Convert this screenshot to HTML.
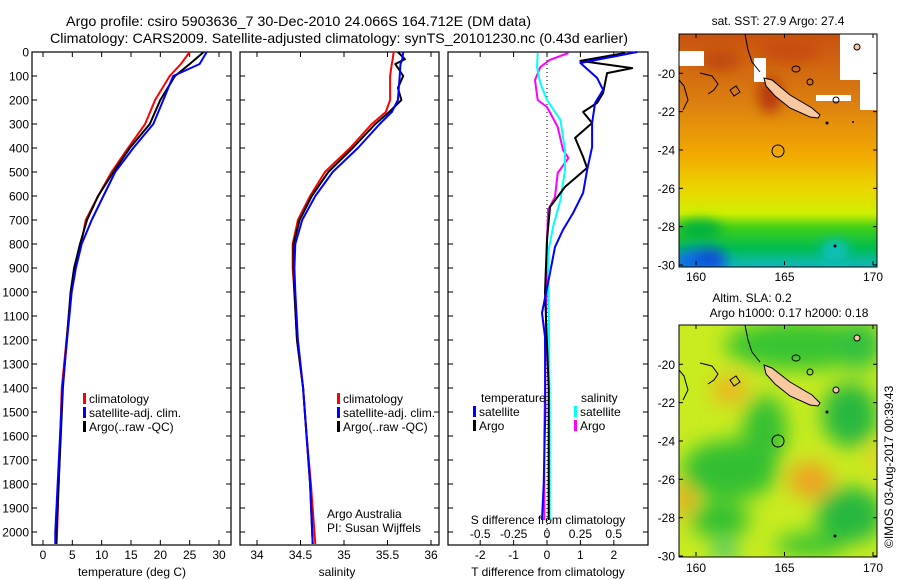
<!DOCTYPE html>
<html><head><meta charset="utf-8"><style>
html,body{margin:0;padding:0;background:#fff;}
svg{display:block;font-family:"Liberation Sans",sans-serif;}
text{fill:#000;}
</style></head><body>
<svg id="fig" width="900" height="580" viewBox="0 0 900 580" xmlns="http://www.w3.org/2000/svg">
<defs>
<filter id="blur6" x="-20%" y="-20%" width="140%" height="140%"><feGaussianBlur stdDeviation="6"/></filter>
<filter id="blur10" x="-30%" y="-30%" width="160%" height="160%"><feGaussianBlur stdDeviation="10"/></filter>
<clipPath id="clipTop"><rect x="679" y="34" width="198" height="233"/></clipPath>
<clipPath id="clipBot"><rect x="679" y="325" width="198" height="232"/></clipPath>
<linearGradient id="sstGrad" x1="0" y1="0" x2="0" y2="1">
<stop offset="0" stop-color="#c85210"/>
<stop offset="0.3" stop-color="#dc8010"/>
<stop offset="0.52" stop-color="#f2aa00"/>
<stop offset="0.66" stop-color="#ecd400"/>
<stop offset="0.77" stop-color="#d0f000"/>
<stop offset="0.83" stop-color="#40d018"/>
<stop offset="0.92" stop-color="#00bc50"/>
<stop offset="1" stop-color="#10b8c0"/>
</linearGradient>
</defs>
<text x="66" y="26" font-size="14" textLength="465" lengthAdjust="spacingAndGlyphs">Argo profile: csiro 5903636_7 30-Dec-2010 24.066S 164.712E (DM data)</text>
<text x="50" y="43" font-size="14" textLength="578" lengthAdjust="spacingAndGlyphs">Climatology: CARS2009. Satellite-adjusted climatology: synTS_20101230.nc (0.43d earlier)</text>
<g id="panels"></g>

<g>
<text x="778" y="25" font-size="12" text-anchor="middle">sat. SST: 27.9 Argo: 27.4</text>
<g clip-path="url(#clipTop)">
<rect x="679" y="34" width="198" height="233" fill="url(#sstGrad)"/>
<g filter="url(#blur6)">
<ellipse cx="770" cy="95" rx="12" ry="18" fill="#b83a10"/>
<ellipse cx="720" cy="60" rx="20" ry="10" fill="#c04810"/>
<ellipse cx="790" cy="50" rx="30" ry="12" fill="#c84e10"/>
<ellipse cx="700" cy="262" rx="28" ry="14" fill="#1070e0"/>
<ellipse cx="710" cy="258" rx="15" ry="10" fill="#0a50d8"/>
<ellipse cx="835" cy="250" rx="14" ry="10" fill="#10c0c8"/>
<ellipse cx="700" cy="230" rx="22" ry="10" fill="#00b040"/>
</g>
<rect x="840" y="34" width="37" height="46" fill="#fff"/>
<rect x="860" y="80" width="17" height="30" fill="#fff"/>
<rect x="679" y="51" width="25" height="15" fill="#fff"/>
<rect x="754" y="58" width="12" height="24" fill="#fff"/>
<rect x="816" y="95" width="35" height="6" fill="#fff"/>
<polygon points="764,78 772,80 790,95 812,108 820,115 818,118 810,117 790,108 775,96 766,86" fill="#f8c8a0" stroke="#000" stroke-width="1"/>
<polyline points="745,34 748,50 752,62 760,72" fill="none" stroke="#000" stroke-width="1"/>
<polyline points="679,80 684,86 688,100 683,110" fill="none" stroke="#000" stroke-width="1"/>
<polyline points="700,73 712,76 718,84 714,90 708,94" fill="none" stroke="#000" stroke-width="1"/>
<path d="M730 90 l6 -4 l4 6 l-6 4 z" fill="none" stroke="#000" stroke-width="1"/>
<ellipse cx="796" cy="69" rx="4" ry="3" fill="none" stroke="#000"/>
<ellipse cx="810" cy="82" rx="3" ry="3" fill="none" stroke="#000"/>
<ellipse cx="836" cy="100" rx="3" ry="3" fill="none" stroke="#000"/>
<ellipse cx="857" cy="47" rx="3" ry="3" fill="#f8c8a0" stroke="#000"/>
<circle cx="827" cy="123" r="1.5" fill="#000"/>
<circle cx="853" cy="122" r="1" fill="#000"/>
<circle cx="835" cy="246" r="1.5" fill="#000"/>
<circle cx="778" cy="151" r="6" fill="none" stroke="#000" stroke-width="1"/>
</g>
<rect x="679" y="34" width="198" height="233" fill="none" stroke="#000" stroke-width="1"/>
<g id="topMapAxes"></g>
</g>

<g>
<text x="752" y="302" font-size="12" text-anchor="middle">Altim. SLA: 0.2</text>
<text x="789" y="317" font-size="12" text-anchor="middle">Argo h1000: 0.17 h2000: 0.18</text>
<g clip-path="url(#clipBot)">
<rect x="679" y="325" width="198" height="232" fill="#c8ec20"/>
<g filter="url(#blur10)">
<ellipse cx="800" cy="345" rx="75" ry="25" fill="#38c430"/>
<ellipse cx="860" cy="345" rx="22" ry="25" fill="#30c040"/>
<ellipse cx="850" cy="415" rx="28" ry="32" fill="#28b840"/>
<ellipse cx="730" cy="470" rx="48" ry="30" fill="#30c030"/>
<ellipse cx="765" cy="430" rx="22" ry="35" fill="#34c030"/>
<ellipse cx="720" cy="520" rx="30" ry="18" fill="#30c030"/>
<ellipse cx="850" cy="515" rx="34" ry="28" fill="#28b840"/>
<ellipse cx="810" cy="545" rx="35" ry="12" fill="#38c430"/>
<ellipse cx="725" cy="552" rx="12" ry="8" fill="#10b890"/>
<ellipse cx="810" cy="480" rx="22" ry="18" fill="#f0a020"/>
<ellipse cx="730" cy="390" rx="18" ry="14" fill="#f0b020"/>
<ellipse cx="683" cy="500" rx="10" ry="16" fill="#f0a020"/>
<ellipse cx="876" cy="460" rx="6" ry="14" fill="#f0c020"/>
</g>
<polygon points="764,365 772,368 790,382 812,395 820,403 818,406 810,405 790,396 775,384 766,374" fill="#f8c8a0" stroke="#000" stroke-width="1"/>
<polyline points="745,325 748,340 752,352 760,362" fill="none" stroke="#000" stroke-width="1"/>
<polyline points="679,370 684,376 688,390 683,400" fill="none" stroke="#000" stroke-width="1"/>
<polyline points="700,363 712,366 718,374 714,380 708,384" fill="none" stroke="#000" stroke-width="1"/>
<path d="M730 380 l6 -4 l4 6 l-6 4 z" fill="none" stroke="#000" stroke-width="1"/>
<ellipse cx="796" cy="358" rx="4" ry="3" fill="none" stroke="#000"/>
<ellipse cx="810" cy="372" rx="3" ry="3" fill="none" stroke="#000"/>
<ellipse cx="836" cy="390" rx="3" ry="3" fill="#f8c8a0" stroke="#000"/>
<ellipse cx="857" cy="338" rx="3" ry="3" fill="#f8c8a0" stroke="#000"/>
<circle cx="827" cy="412" r="1.5" fill="#000"/>
<circle cx="835" cy="536" r="1.5" fill="#000"/>
<circle cx="778" cy="441" r="6" fill="none" stroke="#000" stroke-width="1"/>
</g>
<rect x="679" y="325" width="198" height="232" fill="none" stroke="#000" stroke-width="1"/>
<g id="botMapAxes"></g>
</g>
<text transform="translate(893,548) rotate(-90)" font-size="12">©IMOS 03-Aug-2017 00:39:43</text>
</svg>
<script>
const tempDepthClim = [0, 50, 100, 200, 300, 400, 500, 600, 700, 800, 900, 1000, 1400, 2000, 2050];
const tempClim      = [25.0, 23.5, 21.6, 19.1, 17.4, 14.5, 11.7, 9.4, 7.3, 6.5, 5.4, 4.8, 3.2, 2.4, 2.3];
const tempSat       = [27.9, 26.7, 22.2, 20.5, 18.8, 15.4, 12.3, 10.3, 8.3, 6.6, 5.6, 4.9, 3.3, 2.1, 2.1];
const tempArgo      = [27.4, 25.0, 22.5, 20.0, 18.2, 14.8, 12.0, 9.4, 7.5, 6.3, 5.3, 4.7, 3.4, 2.3, 2.3];

const salDepth = [0, 30, 50, 100, 150, 200, 250, 300, 400, 500, 600, 700, 800, 900, 1000, 1200, 1400, 1600, 1800, 2050];
const salClim  = [35.57, 35.56, 35.55, 35.53, 35.53, 35.53, 35.48, 35.32, 35.07, 34.78, 34.61, 34.47, 34.41, 34.41, 34.43, 34.46, 34.53, 34.57, 34.62, 34.67];
const salSat   = [35.68, 35.67, 35.65, 35.64, 35.63, 35.62, 35.55, 35.41, 35.16, 34.87, 34.67, 34.52, 34.44, 34.43, 34.44, 34.47, 34.53, 34.57, 34.61, 34.64];
const salArgo  = [35.62, 35.70, 35.59, 35.68, 35.62, 35.66, 35.52, 35.36, 35.10, 34.82, 34.63, 34.49, 34.42, 34.42, 34.43, 34.46, 34.53, 34.57, 34.61, 34.64];

const dTSatDepth = [0, 46, 108, 158, 212, 296, 396, 492, 587, 671, 741, 812, 921, 1004, 1087, 1187, 1500, 1800, 1950];
const dTSat      = [2.7, 1.0, 1.5, 1.68, 1.44, 1.35, 1.35, 1.2, 1.08, 0.78, 0.48, 0.24, 0.09, -0.03, -0.15, -0.06, -0.05, -0.1, -0.15];
const dTArgoDepth = [4, 37, 67, 88, 129, 171, 212, 250, 296, 358, 437, 483, 562, 646, 783, 1000, 1400, 1950];
const dTArgo      = [2.34, 1.0, 2.55, 1.8, 1.74, 1.68, 1.5, 1.08, 1.35, 0.84, 1.08, 1.2, 0.54, 0.09, 0.0, -0.06, 0.05, 0.05];
const dSSatDepth = [4, 63, 129, 200, 283, 408, 492, 617, 729, 837, 1170, 1500, 1950];
const dSSat      = [-0.07, -0.075, -0.05, 0.0, 0.1, 0.135, 0.135, 0.1, 0.045, 0.008, 0.015, 0.02, 0.02];
const dSArgoDepth = [4, 33, 63, 117, 200, 229, 312, 408, 442, 504, 604, 658, 783, 1200, 1600, 1950];
const dSArgo      = [0.16, 0.02, -0.05, -0.09, -0.07, 0.0, 0.08, 0.12, 0.16, 0.08, 0.06, 0.008, 0.0, -0.01, -0.02, -0.02];

const depthTicks = [0,100,200,300,400,500,600,700,800,900,1000,1100,1200,1300,1400,1500,1600,1700,1800,1900,2000];
const tempTicks = [0,5,10,15,20,25,30];
const salTicks = [34,34.5,35,35.5,36];
const salTickLabels = ['34','34.5','35','35.5','36'];
const dTTicks = [-2,-1,0,1,2];
const dSTicks = [-0.5,-0.25,0,0.25,0.5];
const dSTickLabels = ['-0.5','-0.25','0','0.25','0.5'];
const latTicks = [-20,-22,-24,-26,-28,-30];
const lonTicks = [160,165,170];

const NS = 'http://www.w3.org/2000/svg';
const TOP = 52, BOT = 545;
const yD = d => TOP + d * 0.24;
const xT = t => 43 + t * (176 / 30);
const xS = s => 257 + (s - 34) * 87;
const xDT = t => 547 + t * 33.4;
const xDS = s => 547 + s * 133.5;
function mk(tag, attrs, parent) {
  const e = document.createElementNS(NS, tag);
  for (const k in attrs) e.setAttribute(k, attrs[k]);
  parent.appendChild(e);
  return e;
}
const G = document.getElementById('panels');

function panelFrame(name, x0, x1) {
  const r = mk('rect', {x: x0, y: TOP, width: x1 - x0, height: BOT - TOP, fill: 'none', stroke: '#000', 'stroke-width': 1.2}, G);
  
  
  depthTicks.forEach(d => {
    mk('line', {x1: x0, x2: x0 + 5, y1: yD(d), y2: yD(d), stroke: '#000'}, G);
    mk('line', {x1: x1 - 5, x2: x1, y1: yD(d), y2: yD(d), stroke: '#000'}, G);
  });
}
function xTicks(ticks, labels, fx, y, prefix) {
  ticks.forEach((t, i) => {
    const x = fx(t);
    mk('line', {x1: x, x2: x, y1: BOT, y2: BOT - 5, stroke: '#000'}, G);
    mk('line', {x1: x, x2: x, y1: TOP, y2: TOP + 5, stroke: '#000'}, G);
    if (y) {
      const tx = mk('text', {x: x, y: y, 'font-size': 12, 'text-anchor': 'middle'}, G);
      tx.textContent = labels[i];
      
      
    }
  });
}
function line(depths, vals, fx, color, name, w) {
  const pts = depths.map((d, i) => fx(vals[i]).toFixed(1) + ',' + yD(d).toFixed(1)).join(' ');
  const p = mk('polyline', {points: pts, fill: 'none', stroke: color, 'stroke-width': w || 2, 'stroke-linejoin': 'round'}, G);
  
  
}
function label(x, y, txt, name, anchor) {
  const t = mk('text', {x: x, y: y, 'font-size': 12, 'text-anchor': anchor || 'start'}, G);
  t.textContent = txt;
  
  
}
function legendEntry(x, y, color, txt, name) {
  mk('rect', {x: x, y: y - 10, width: 3, height: 11, fill: color}, G);
  label(x + 6, y, txt, name);
}

panelFrame('temperature-panel', 32, 231);
depthTicks.forEach(d => {
  const t = mk('text', {x: 29, y: yD(d) + 4.5, 'font-size': 12, 'text-anchor': 'end'}, G);
  t.textContent = String(d);
  
  
});
xTicks(tempTicks, tempTicks.map(String), xT, 559, 'temperature');
label(132, 576, 'temperature (deg C)', 'temperature-axis-title', 'middle');
line(tempDepthClim, tempClim, xT, '#ff0000', 'temp-climatology-line');
line(tempDepthClim, tempArgo, xT, '#000000', 'temp-argo-line');
line(tempDepthClim, tempSat, xT, '#0000ff', 'temp-satellite-line');
legendEntry(83, 403, '#ff0000', 'climatology', 'legend-climatology');
legendEntry(83, 417, '#0000ff', 'satellite-adj. clim.', 'legend-satellite');
legendEntry(83, 431, '#000000', 'Argo(..raw -QC)', 'legend-argo');

panelFrame('salinity-panel', 240, 439);
xTicks(salTicks, salTickLabels, xS, 559, 'salinity');
label(337, 576, 'salinity', 'salinity-axis-title', 'middle');
line(salDepth, salClim, xS, '#ff0000', 'sal-climatology-line');
line(salDepth, salArgo, xS, '#000000', 'sal-argo-line');
line(salDepth, salSat, xS, '#0000ff', 'sal-satellite-line');
legendEntry(337, 403, '#ff0000', 'climatology', 'legend-climatology-sal');
legendEntry(337, 417, '#0000ff', 'satellite-adj. clim.', 'legend-satellite-sal');
legendEntry(337, 431, '#000000', 'Argo(..raw -QC)', 'legend-argo-sal');
label(327, 518, 'Argo Australia', 'agency-label');
label(327, 532, 'PI: Susan Wijffels', 'pi-label');

panelFrame('difference-panel', 448, 648);
xTicks(dTTicks, dTTicks.map(String), xDT, 559, 'tdiff');
dSTicks.forEach((s, i) => {
  const t = mk('text', {x: xDS(s), y: 538, 'font-size': 12, 'text-anchor': 'middle'}, G);
  t.textContent = dSTickLabels[i];
  
  
});
label(548, 524, 'S difference from climatology', 'sdiff-axis-title', 'middle');
label(548, 576, 'T difference from climatology', 'tdiff-axis-title', 'middle');
mk('line', {x1: xDT(0), x2: xDT(0), y1: TOP, y2: BOT, stroke: '#000', 'stroke-dasharray': '1,3'}, G);
line(dSArgoDepth, dSArgo, xDS, '#ff00ff', 'sdiff-argo-line');
line(dSSatDepth, dSSat, xDS, '#00ffff', 'sdiff-satellite-line');
line(dTArgoDepth, dTArgo, xDT, '#000000', 'tdiff-argo-line');
line(dTSatDepth, dTSat, xDT, '#0000ff', 'tdiff-satellite-line');
label(481, 402, 'temperature', 'legend-temperature-header');
legendEntry(473, 416, '#0000ff', 'satellite', 'legend-tdiff-satellite');
legendEntry(473, 430, '#000000', 'Argo', 'legend-tdiff-argo');
label(581, 402, 'salinity', 'legend-salinity-header');
legendEntry(574, 416, '#00ffff', 'satellite', 'legend-sdiff-satellite');
legendEntry(574, 430, '#ff00ff', 'Argo', 'legend-sdiff-argo');

function mapAxes(gid, y0, y1, latTop) {
  const g = document.getElementById(gid);
  const lonX = lon => 696 + (lon - 160) * 17.7;
  const latY = lat => y1 - (lat + 30) * ((y1 - y0) / (latTop + 30));
  latTicks.forEach(lat => {
    const y = latY(lat);
    mk('line', {x1: 679, x2: 683, y1: y, y2: y, stroke: '#000'}, g);
    mk('line', {x1: 873, x2: 877, y1: y, y2: y, stroke: '#000'}, g);
    const t = mk('text', {x: 675, y: y + 4.5, 'font-size': 12, 'text-anchor': 'end'}, g);
    t.textContent = String(lat);
    
    
  });
  lonTicks.forEach(lon => {
    const x = lonX(lon);
    mk('line', {x1: x, x2: x, y1: y1, y2: y1 - 4, stroke: '#000'}, g);
    mk('line', {x1: x, x2: x, y1: y0, y2: y0 + 4, stroke: '#000'}, g);
    const t = mk('text', {x: x, y: y1 + 16, 'font-size': 12, 'text-anchor': 'middle'}, g);
    t.textContent = String(lon);
    
    
  });
}
mapAxes('topMapAxes', 34, 265, -17.95);
mapAxes('botMapAxes', 325, 556, -17.95);
</script>
</body></html>
